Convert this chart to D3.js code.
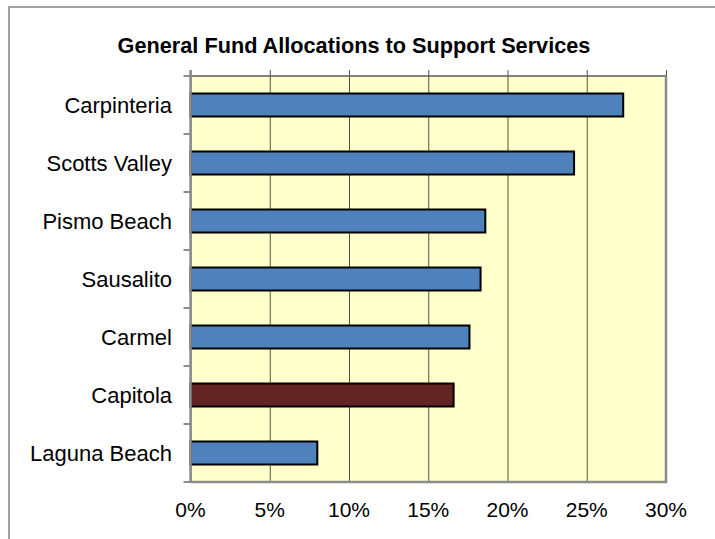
<!DOCTYPE html>
<html>
<head>
<meta charset="utf-8">
<script src="https://cdn.jsdelivr.net/npm/d3@7/dist/d3.min.js"></script>
<style>
  html, body { margin: 0; padding: 0; background: #fff; }
  svg { display: block; }
  text { font-family: "Liberation Sans", Arial, sans-serif; fill: #000; }
</style>
</head>
<body>
<svg id="chart" width="715" height="539"></svg>
<script>
// Share of general fund allocated to support services, by city
const cities = ["Carpinteria", "Scotts Valley", "Pismo Beach", "Sausalito", "Carmel", "Capitola", "Laguna Beach"];
const shares = [0.273, 0.242, 0.186, 0.183, 0.176, 0.166, 0.080];
const highlighted = ["Capitola"];
const xTicks = [0, 0.05, 0.10, 0.15, 0.20, 0.25, 0.30];
const titleText = "General Fund Allocations to Support Services";

const rows = cities.map((c, i) => ({ city: c, value: shares[i] }));

const svg = d3.select("#chart");
const W = 715, H = 539;
const plot = { left: 190.5, right: 666, top: 76, bottom: 482 };

// Outer chart frame (open on the right and bottom)
svg.append("path")
  .attr("d", `M9,${H} L9,7 L${W},7`)
  .attr("fill", "none")
  .attr("stroke", "#a0a0a0")
  .attr("stroke-width", 2);

// Title
svg.append("text")
  .attr("x", 354)
  .attr("y", 52.5)
  .attr("text-anchor", "middle")
  .attr("font-size", 21.7)
  .attr("font-weight", "bold")
  .text(titleText);

const x = d3.scaleLinear().domain([0, 0.30]).range([plot.left, plot.right]);
const pad = 1 - 23 / ((plot.bottom - plot.top) / cities.length);
const y = d3.scaleBand().domain(cities).range([plot.top, plot.bottom])
  .paddingInner(pad).paddingOuter(pad / 2);

// Plot background
svg.append("rect")
  .attr("x", plot.left).attr("y", plot.top)
  .attr("width", plot.right - plot.left).attr("height", plot.bottom - plot.top)
  .attr("fill", "#ffffcc");

// Vertical gridlines with tick marks above the plot
const topAxis = d3.axisTop(x).tickValues(xTicks).tickSize(plot.bottom - plot.top + 6).tickFormat("");
const grid = svg.append("g")
  .attr("transform", `translate(0,${plot.bottom})`)
  .call(topAxis);
grid.select(".domain").remove();
grid.selectAll(".tick line").attr("stroke", "#55553f").attr("stroke-width", 1);

// Bars
svg.append("g").selectAll("rect")
  .data(rows)
  .join("rect")
  .attr("x", x(0))
  .attr("y", d => y(d.city))
  .attr("width", d => x(d.value) - x(0))
  .attr("height", y.bandwidth())
  .attr("fill", d => highlighted.includes(d.city) ? "#632523" : "#4f81bd")
  .attr("stroke", "#000")
  .attr("stroke-width", 2);

// Plot frame: top edge, right and bottom edges
svg.append("line")
  .attr("x1", plot.left).attr("x2", plot.right)
  .attr("y1", plot.top).attr("y2", plot.top)
  .attr("stroke", "#5a5a5a").attr("stroke-width", 1.5);
svg.append("path")
  .attr("d", `M${plot.right},${plot.top} L${plot.right},${plot.bottom} L${plot.left},${plot.bottom}`)
  .attr("fill", "none")
  .attr("stroke", "#8c8c8c").attr("stroke-width", 2.5);

// Category axis on the left, tick marks at band boundaries
const boundaries = d3.range(cities.length + 1).map(i => plot.top + i * y.step());
svg.append("g").selectAll("line")
  .data(boundaries)
  .join("line")
  .attr("x1", plot.left - 7).attr("x2", plot.left)
  .attr("y1", d => d).attr("y2", d => d)
  .attr("stroke", "#8c8c8c").attr("stroke-width", 2);
svg.append("line")
  .attr("x1", plot.left).attr("x2", plot.left)
  .attr("y1", plot.top - 6).attr("y2", plot.bottom + 1)
  .attr("stroke", "#8c8c8c").attr("stroke-width", 2.5);

svg.append("g").selectAll("text")
  .data(cities)
  .join("text")
  .attr("x", 172)
  .attr("y", d => y(d) + y.bandwidth() / 2)
  .attr("dy", "0.35em")
  .attr("text-anchor", "end")
  .attr("font-size", 22)
  .text(d => d);

// Value labels below the plot
const fmt = d3.format(".0%");
svg.append("g").selectAll("text")
  .data(xTicks)
  .join("text")
  .attr("x", d => x(d))
  .attr("y", 517)
  .attr("text-anchor", "middle")
  .attr("font-size", 21)
  .text(d => fmt(d));
</script>
</body>
</html>
